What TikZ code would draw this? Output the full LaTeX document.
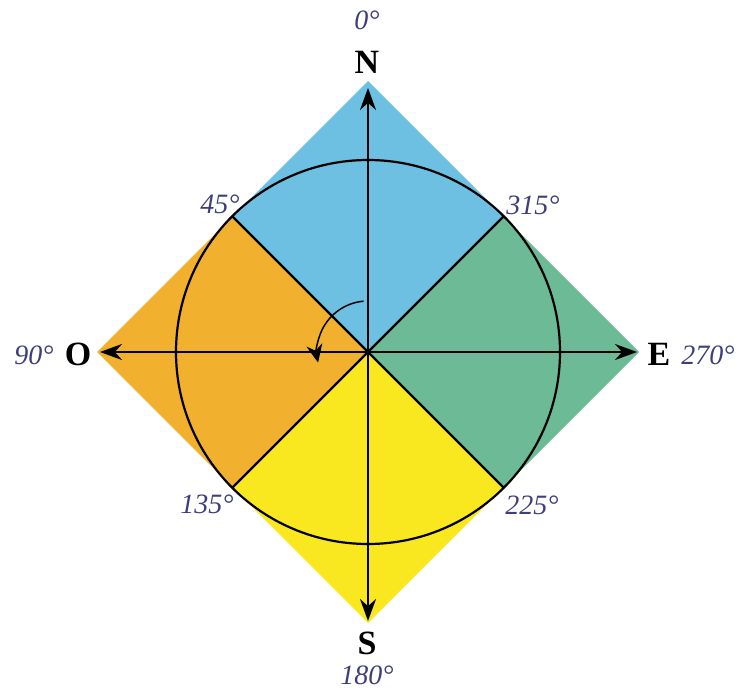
\documentclass[tikz,border=0pt]{standalone}
\usepackage{fontspec}
\setmainfont{Liberation Serif}
\usetikzlibrary{arrows.meta}
\definecolor{quadblue}{HTML}{6DC0E2}
\definecolor{quadgreen}{HTML}{6DBA96}
\definecolor{quadyellow}{HTML}{F9E81F}
\definecolor{quadorange}{HTML}{F1B12E}
\definecolor{degcolor}{HTML}{3E3E7A}
\tikzset{
    sector/.style={line width=1.1pt, draw=black},
    axis/.style={line width=1.25pt, {Stealth[length=11pt,width=8pt]}-{Stealth[length=11pt,width=8pt]}},
    turn/.style={line width=0.75pt, -{Stealth[length=9pt,width=8pt]}},
    cardinal/.style={font=\fontsize{17}{17}\selectfont\bfseries},
    degree/.style={font=\fontsize{14}{14}\selectfont\itshape, text=degcolor}
}
\begin{document}
\begin{tikzpicture}[x=0.5pt,y=-0.5pt]
    \useasboundingbox (0,0) rectangle (737,689);
    \coordinate (c) at (368,352);
    \coordinate (n) at (368,81);
    \coordinate (s) at (368,623);
    \coordinate (w) at (97,352);
    \coordinate (e) at (639,352);
    \coordinate (nw) at (232.5,216.5);
    \coordinate (ne) at (503.5,216.5);
    \coordinate (sw) at (232.5,487.5);
    \coordinate (se) at (503.5,487.5);
    \coordinate (ntip) at (368,88);
    \coordinate (stip) at (368,621);
    \coordinate (wtip) at (100,352);
    \coordinate (etip) at (637,352);

    \fill[quadblue] (c) -- (nw) -- (n) -- (ne) -- cycle;
    \fill[quadgreen] (c) -- (ne) -- (e) -- (se) -- cycle;
    \fill[quadyellow] (c) -- (se) -- (s) -- (sw) -- cycle;
    \fill[quadorange] (c) -- (sw) -- (w) -- (nw) -- cycle;

    \draw[sector] (c) circle[radius=192];
    \draw[sector] (nw) -- (se);
    \draw[sector] (ne) -- (sw);
    \draw[axis] (stip) -- (ntip);
    \draw[axis] (wtip) -- (etip);
    \draw[turn] ([shift={(265:51)}]c) arc[start angle=265, end angle=168, radius=51];

    \node[cardinal] (north) at (367,62) {N};
    \node[cardinal] (south) at (367,643) {S};
    \node[cardinal] (west) at (78,354) {O};
    \node[cardinal] (east) at (659,354) {E};
    \node[degree] (d0) at (367,20) {0°};
    \node[degree] (d45) at (220,204) {45°};
    \node[degree] (d90) at (34,355) {90°};
    \node[degree] (d135) at (207,504) {135°};
    \node[degree] (d180) at (367,675) {180°};
    \node[degree] (d225) at (532,505) {225°};
    \node[degree, anchor=east, inner sep=0pt] (d270) at (735,355) {270°};
    \node[degree] (d315) at (533,205) {315°};
\end{tikzpicture}
\end{document}
